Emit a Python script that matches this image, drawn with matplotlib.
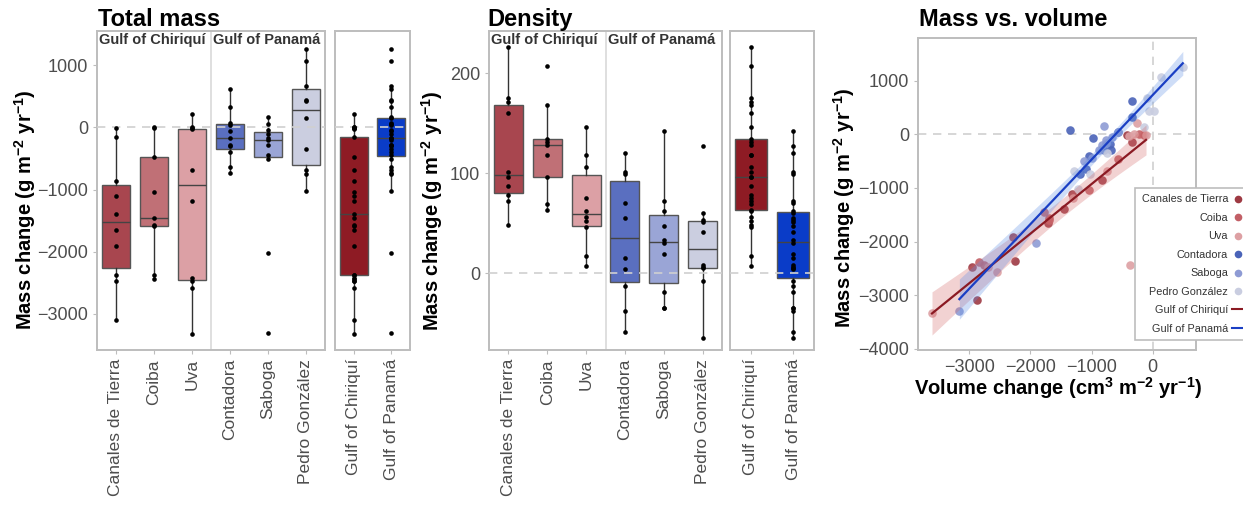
import numpy as np
import matplotlib
matplotlib.use("Agg")
import matplotlib.pyplot as plt
import matplotlib.transforms as mtransforms
from matplotlib.lines import Line2D

plt.rcParams['font.family'] = ['Liberation Sans', 'DejaVu Sans']
plt.rcParams['mathtext.fontset'] = 'custom'
plt.rcParams['mathtext.rm'] = 'Liberation Sans'
plt.rcParams['mathtext.bf'] = 'Liberation Sans:bold'

# ---------------- data ----------------
sites = ["Canales de Tierra", "Coiba", "Uva", "Contadora", "Saboga", "Pedro González"]
gulfs = ["Gulf of Chiriquí", "Gulf of Panamá"]

mass_canales = [-5, -150, -860, -1105, -1400, -1650, -1910, -2370, -2470, -3090]
mass_coiba = [0, -10, -470, -1035, -1450, -1570, -1590, -2380, -2440]
mass_uva = [210, 10, -15, -30, -686, -1180, -2430, -2470, -2575, -3330]
mass_contadora = [617, 322, 75, 40, -60, -172, -290, -300, -402, -643, -740]
mass_saboga = [-3303, -2027, -504, -445, -290, -204, -166, -100, -50, 48, 160]
mass_pedro = [-1019, -750, -686, -354, 145, 430, 440, 670, 1067, 1255]

vol_canales = [-421, -345, -837, -1313, -1450, -1713, -2282, -2250, -2950, -2873]
vol_coiba = [-219, -137, -563, -1050, -1780, -1700, -1690, -2835, -2764]
vol_uva = [-250, -312, -109, -380, -740, -1300, -367, -2700, -2545, -3612]
vol_contadora = [-340, -345, -1352, -560, -974, -700, -685, -800, -1040, -1095, -1188]
vol_saboga = [-3164, -1916, -1130, -1000, -880, -830, -760, -767, -668, -575, -794]
vol_pedro = [-1230, -1020, -1290, -740, -148, 27, -55, -93, 137, 493]

dens_canales = [48, 72, 78, 87, 96, 101, 160, 171, 175, 226]
dens_coiba = [63, 69, 96, 118, 128, 131, 134, 168, 207]
dens_uva = [7, 17, 46, 52, 56, 62, 75, 106, 118, 146]
dens_contadora = [-59, -38, -13, 4, 15, 55, 70, 99, 101, 120]
dens_saboga = [-35, -35, -19, 19, 30, 33, 47, 62, 72, 142]
dens_pedro = [-65, -8, 5, 6, 8, 41, 51, 53, 60, 127]

mass_ticks = [-3000, -2000, -1000, 0, 1000]
dens_ticks = [0, 100, 200]
vol_xticks = [-3000, -2000, -1000, 0]
vol_yticks = [-4000, -3000, -2000, -1000, 0, 1000]

# ---------------- styles ----------------
site_box_colors = ['#A8464F', '#C07076', '#DCA0A5', '#5A6FC0', '#9AA5D6', '#CBCEE0']
gulf_box_colors = ['#8E1B24', '#0A3CC8']
site_pt_colors = ['#9E3A43', '#C25F66', '#DDA0A3', '#4A63B8', '#8E9BD4', '#C9CDE0']
line_colors = ['#8B1A23', '#1A3FC4']
band_colors = ['#D46A6A', '#5F8FE6']
frame_col = '#BDBDBD'
tick_col = '#4D4D4D'

W, H = 1243, 505
fig = plt.figure(figsize=(W / 100, H / 100), dpi=100)


def rect(x0, x1, y0, y1):
    return [x0 / W, 1 - y1 / H, (x1 - x0) / W, (y1 - y0) / H]


def fmt(t):
    return ('−' + str(abs(t))) if t < 0 else str(t)


def style_axes(ax):
    for s in ax.spines.values():
        s.set_color(frame_col)
        s.set_linewidth(1.4)
    ax.tick_params(axis='both', colors=frame_col, labelcolor=tick_col, length=3, width=0.8)
    ax.set_facecolor('white')


def box_panel(ax, data, labels, colors, ylim, yticks, show_y, strips):
    n = len(data)
    pos = np.arange(1, n + 1)
    bp = ax.boxplot(data, positions=pos, widths=0.75, patch_artist=True, showfliers=False,
                    showcaps=False, whis=1.5,
                    boxprops=dict(edgecolor='#555555', linewidth=1.0),
                    medianprops=dict(color='#444444', linewidth=1.0),
                    whiskerprops=dict(color='#333333', linewidth=1.0), zorder=2)
    for patch, c in zip(bp['boxes'], colors):
        patch.set_facecolor(c)
    ax.axhline(0, color='#D0D0D0', ls=(0, (5, 4)), lw=1.2, zorder=3)
    for i, d in enumerate(data):
        ax.scatter(np.full(len(d), pos[i]), d, s=11, color='black', zorder=4, linewidths=0)
    ax.set_xlim(0.5, n + 0.5)
    ax.set_ylim(*ylim)
    ax.set_yticks(yticks)
    ax.set_yticklabels([fmt(t) for t in yticks], fontsize=13)
    if not show_y:
        ax.tick_params(axis='y', left=False, labelleft=False)
    ax.set_xticks(pos)
    ax.set_xticklabels(labels, rotation=90, fontsize=12.5, color='#333333')
    style_axes(ax)
    if strips:
        ax.axvline(3.5, color='#D9D9D9', lw=1.2, zorder=1)
        tr = mtransforms.blended_transform_factory(ax.transData, ax.transAxes)
        for xs, lab in [(0.56, gulfs[0]), (3.56, gulfs[1])]:
            ax.text(xs, 0.995, lab, transform=tr, ha='left', va='top', fontsize=10.5,
                    fontweight='bold', color='#333333')


mass_sites = [mass_canales, mass_coiba, mass_uva, mass_contadora, mass_saboga, mass_pedro]
dens_sites = [dens_canales, dens_coiba, dens_uva, dens_contadora, dens_saboga, dens_pedro]
vol_sites = [vol_canales, vol_coiba, vol_uva, vol_contadora, vol_saboga, vol_pedro]

mass_gulfs = [mass_canales + mass_coiba + mass_uva, mass_contadora + mass_saboga + mass_pedro]
dens_gulfs = [dens_canales + dens_coiba + dens_uva, dens_contadora + dens_saboga + dens_pedro]

mass_lim = (-3580, 1550)
dens_lim = (-77, 242)

ax1 = fig.add_axes(rect(97, 325, 31, 350))
box_panel(ax1, mass_sites, sites, site_box_colors, mass_lim, mass_ticks, True, True)
ax1b = fig.add_axes(rect(335, 410, 31, 350))
box_panel(ax1b, mass_gulfs, gulfs, gulf_box_colors, mass_lim, mass_ticks, False, False)

ax2 = fig.add_axes(rect(489, 722, 31, 350))
box_panel(ax2, dens_sites, sites, site_box_colors, dens_lim, dens_ticks, True, True)
ax2b = fig.add_axes(rect(730, 814, 31, 350))
box_panel(ax2b, dens_gulfs, gulfs, gulf_box_colors, dens_lim, dens_ticks, False, False)

ylab = r'Mass change (g m$^{\mathbf{-2}}$ yr$^{\mathbf{-1}}$)'
fig.text(25 / W, 1 - 210 / H, ylab, rotation=90, ha='center', va='center',
         fontsize=14.5, fontweight='bold')
fig.text(432 / W, 1 - 211 / H, ylab, rotation=90, ha='center', va='center',
         fontsize=14.5, fontweight='bold')
fig.text(844 / W, 1 - 208 / H, ylab, rotation=90, ha='center', va='center',
         fontsize=14.5, fontweight='bold')

fig.text(98 / W, 1 - 26 / H, 'Total mass', fontsize=17, fontweight='bold', va='baseline')
fig.text(487 / W, 1 - 26 / H, 'Density', fontsize=17, fontweight='bold', va='baseline')
fig.text(919 / W, 1 - 26 / H, 'Mass vs. volume', fontsize=17, fontweight='bold', va='baseline')

# ---------------- scatter panel ----------------
ax3 = fig.add_axes(rect(918, 1196, 37.7, 350))
ax3.axhline(0, color='#D0D0D0', ls=(0, (5, 4)), lw=1.2, zorder=1)
ax3.axvline(0, color='#D0D0D0', ls=(0, (5, 4)), lw=1.2, zorder=1)
for v, m, c in zip(vol_sites, mass_sites, site_pt_colors):
    ax3.scatter(v, m, s=38, color=c, alpha=0.9, linewidths=0, zorder=2)

groups = [(vol_canales + vol_coiba + vol_uva, mass_gulfs[0]),
          (vol_contadora + vol_saboga + vol_pedro, mass_gulfs[1])]
for (gx, gy), lc, bc in zip(groups, line_colors, band_colors):
    x = np.asarray(gx, float)
    y = np.asarray(gy, float)
    n = len(x)
    b, a = np.polyfit(x, y, 1)
    xs = np.linspace(x.min(), x.max(), 100)
    yhat = a + b * xs
    resid = y - (a + b * x)
    s = np.sqrt(np.sum(resid ** 2) / (n - 2))
    se = s * np.sqrt(1 / n + (xs - x.mean()) ** 2 / np.sum((x - x.mean()) ** 2))
    t = 2.05
    ax3.fill_between(xs, yhat - t * se, yhat + t * se, color=bc, alpha=0.3, linewidth=0, zorder=3)
    ax3.plot(xs, yhat, color=lc, lw=1.6, zorder=4)

ax3.set_xlim(-3841, 709)
ax3.set_ylim(-4024, 1802)
ax3.set_xticks(vol_xticks)
ax3.set_xticklabels([fmt(t) for t in vol_xticks], fontsize=13)
ax3.set_yticks(vol_yticks)
ax3.set_yticklabels([fmt(t) for t in vol_yticks], fontsize=13)
style_axes(ax3)
fig.text(1058 / W, 1 - 388 / H, r'Volume change (cm$^{\mathbf{3}}$ m$^{\mathbf{-2}}$ yr$^{\mathbf{-1}}$)',
         ha='center', va='center', fontsize=14.5, fontweight='bold')

handles = [Line2D([], [], marker='o', ls='', color=c, markersize=5.5, markeredgewidth=0)
           for c in site_pt_colors]
handles += [Line2D([], [], color=c, lw=1.5) for c in line_colors]
labels = sites + gulfs
leg = ax3.legend(handles, labels, loc='upper left', bbox_to_anchor=(1135 / W, 1 - 188 / H),
                 bbox_transform=fig.transFigure, markerfirst=False, fontsize=7.8,
                 frameon=True, fancybox=False, framealpha=1, edgecolor=frame_col,
                 handlelength=1.1, handletextpad=0.35, labelspacing=0.78, borderpad=0.6,
                 borderaxespad=0)
leg.get_frame().set_linewidth(1.2)
for t in leg.get_texts():
    t.set_color('#333333')
    t.set_ha('right')
leg._legend_box.align = 'right'

fig.savefig('out.png', dpi=100, facecolor='white')
